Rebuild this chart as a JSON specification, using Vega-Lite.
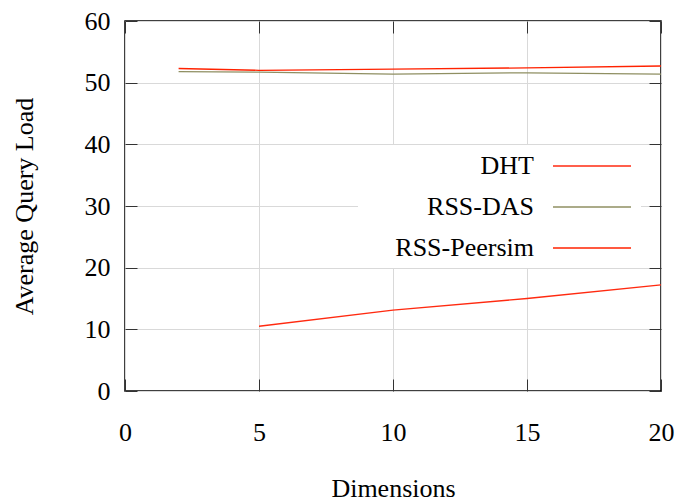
{
  "$schema": "https://vega.github.io/schema/vega-lite/v6.json",
  "width": 536,
  "height": 370,
  "autosize": {"type": "none"},
  "padding": {"left": 125, "top": 21, "right": 16, "bottom": 112},
  "background": "white",
  "config": {
    "font": "Liberation Serif",
    "view": {"stroke": "#000000", "strokeWidth": 1.5},
    "axis": {
      "domain": false,
      "gridColor": "#d9d9d9",
      "gridWidth": 1,
      "tickColor": "#333333",
      "tickSize": -12,
      "tickWidth": 1,
      "labelFont": "Liberation Serif",
      "labelFontSize": 26,
      "labelColor": "#000000",
      "titleFont": "Liberation Serif",
      "titleFontSize": 26,
      "titleFontWeight": "normal",
      "titleColor": "#000000"
    }
  },
  "data": {
    "values": [
      {"series": "DHT", "dim": 5, "load": 10.5},
      {"series": "DHT", "dim": 10, "load": 13.1},
      {"series": "DHT", "dim": 15, "load": 15.0},
      {"series": "DHT", "dim": 20, "load": 17.2},
      {"series": "RSS-DAS", "dim": 2, "load": 51.8},
      {"series": "RSS-DAS", "dim": 5, "load": 51.7},
      {"series": "RSS-DAS", "dim": 10, "load": 51.4},
      {"series": "RSS-DAS", "dim": 15, "load": 51.6},
      {"series": "RSS-DAS", "dim": 20, "load": 51.4},
      {"series": "RSS-Peersim", "dim": 2, "load": 52.3},
      {"series": "RSS-Peersim", "dim": 5, "load": 52.0},
      {"series": "RSS-Peersim", "dim": 10, "load": 52.2},
      {"series": "RSS-Peersim", "dim": 15, "load": 52.4},
      {"series": "RSS-Peersim", "dim": 20, "load": 52.7}
    ]
  },
  "resolve": {"axis": {"x": "independent", "y": "independent"}},
  "layer": [
    {
      "mark": {"type": "line", "strokeWidth": 1.3},
      "encoding": {
        "x": {
          "field": "dim", "type": "quantitative",
          "scale": {"domain": [0, 20], "nice": false},
          "axis": {"values": [0, 5, 10, 15, 20], "title": "Dimensions", "grid": true, "labelPadding": 40, "titlePadding": 30, "labelFlush": false}
        },
        "y": {
          "field": "load", "type": "quantitative",
          "scale": {"domain": [0, 60], "nice": false},
          "axis": {"values": [0, 10, 20, 30, 40, 50, 60], "title": "Average Query Load", "grid": true, "labelPadding": 27, "titlePadding": 47, "labelFlush": false}
        },
        "color": {
          "field": "series", "type": "nominal",
          "scale": {"domain": ["DHT", "RSS-DAS", "RSS-Peersim"], "range": ["#ff2a10", "#8f8f62", "#ff2200"]},
          "legend": {
            "orient": "none",
            "legendX": 233,
            "legendY": 124,
            "title": null,
            "symbolType": "M-3,0L3,0",
            "symbolSize": 676,
            "symbolStrokeWidth": 1.3,
            "symbolOffset": 213,
            "labelFont": "Liberation Serif",
            "labelFontSize": 26,
            "labelColor": "#000000",
            "labelAlign": "right",
            "labelOffset": -72,
            "labelLimit": 0,
            "rowPadding": 14,
            "fillColor": "white",
            "padding": 7
          }
        }
      }
    },
    {
      "mark": {"type": "point", "opacity": 0},
      "encoding": {
        "x": {
          "field": "dim", "type": "quantitative",
          "axis": {"orient": "top", "values": [0, 5, 10, 15, 20], "labels": false, "title": null, "grid": false}
        },
        "y": {
          "field": "load", "type": "quantitative",
          "axis": {"orient": "right", "values": [0, 10, 20, 30, 40, 50, 60], "labels": false, "title": null, "grid": false}
        }
      }
    }
  ]
}
